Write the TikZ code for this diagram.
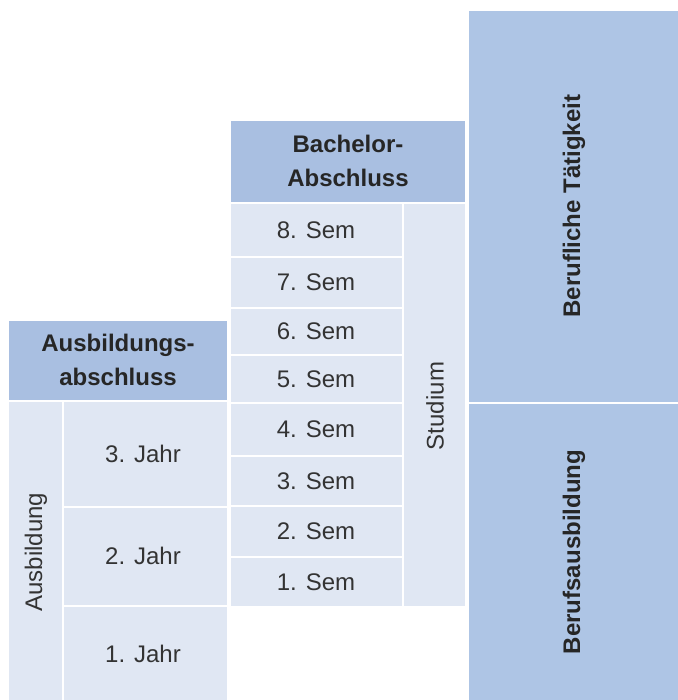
\documentclass[tikz,border=0pt]{standalone}
\usepackage{fontspec}
\setmainfont{Liberation Sans}

\definecolor{hdrblue}{RGB}{169,191,225}
\definecolor{sideblue}{RGB}{174,197,229}
\definecolor{cellblue}{RGB}{224,231,243}
\definecolor{txtgray}{RGB}{51,51,51}

\tikzset{every picture/.style={line width=0.75pt}}
\tikzset{
  hdr/.style={color=white, line width=1.5, fill=hdrblue},
  side/.style={color=white, line width=1.5, fill=sideblue},
  cell/.style={color=white, line width=1.5, fill=cellblue},
  txt/.style={inner sep=0.75pt, text=txtgray, font=\fontsize{18}{26}\selectfont, align=center},
  btxt/.style={txt, text=black!85, font=\fontsize{18}{26}\selectfont\bfseries}
}

\begin{document}
\begin{tikzpicture}[x=0.75pt,y=0.75pt,yscale=-1,xscale=1]
\useasboundingbox (0,0) rectangle (678,700);

%Shape: Rectangle [Ausbildungsabschluss]
\draw [hdr] (8,320) -- (228,320) -- (228,401) -- (8,401) -- cycle ;
%Shape: Rectangle [Ausbildung]
\draw [cell] (8,401) -- (63,401) -- (63,702) -- (8,702) -- cycle ;
%Shape: Rectangle [3. Jahr]
\draw [cell] (63,401) -- (228,401) -- (228,507) -- (63,507) -- cycle ;
%Shape: Rectangle [2. Jahr]
\draw [cell] (63,507) -- (228,507) -- (228,606) -- (63,606) -- cycle ;
%Shape: Rectangle [1. Jahr]
\draw [cell] (63,606) -- (228,606) -- (228,702) -- (63,702) -- cycle ;

%Shape: Rectangle [Bachelor-Abschluss]
\draw [hdr] (230,120) -- (466,120) -- (466,203) -- (230,203) -- cycle ;
%Shape: Rectangle [8. Sem]
\draw [cell] (230,203) -- (403,203) -- (403,257) -- (230,257) -- cycle ;
%Shape: Rectangle [7. Sem]
\draw [cell] (230,257) -- (403,257) -- (403,308) -- (230,308) -- cycle ;
%Shape: Rectangle [6. Sem]
\draw [cell] (230,308) -- (403,308) -- (403,355) -- (230,355) -- cycle ;
%Shape: Rectangle [5. Sem]
\draw [cell] (230,355) -- (403,355) -- (403,403) -- (230,403) -- cycle ;
%Shape: Rectangle [4. Sem]
\draw [cell] (230,403) -- (403,403) -- (403,456) -- (230,456) -- cycle ;
%Shape: Rectangle [3. Sem]
\draw [cell] (230,456) -- (403,456) -- (403,506) -- (230,506) -- cycle ;
%Shape: Rectangle [2. Sem]
\draw [cell] (230,506) -- (403,506) -- (403,557) -- (230,557) -- cycle ;
%Shape: Rectangle [1. Sem]
\draw [cell] (230,557) -- (403,557) -- (403,607) -- (230,607) -- cycle ;
%Shape: Rectangle [Studium]
\draw [cell] (403,203) -- (466,203) -- (466,607) -- (403,607) -- cycle ;

%Shape: Rectangle [Berufliche Taetigkeit]
\draw [side] (468,10) -- (680,10) -- (680,403) -- (468,403) -- cycle ;
%Shape: Rectangle [Berufsausbildung]
\draw [side] (468,403) -- (680,403) -- (680,702) -- (468,702) -- cycle ;

% Text Node
\draw (118,360) node (abschluss) [btxt] {Ausbildungs-\\abschluss};
% Text Node
\draw (36,552) node (ausbildung) [txt, rotate=90] {Ausbildung};
% Text Node
\draw (143,454) node (jahr3) [txt] {3. Jahr};
% Text Node
\draw (143,556) node (jahr2) [txt] {2. Jahr};
% Text Node
\draw (143,654) node (jahr1) [txt] {1. Jahr};

% Text Node
\draw (348,161) node (bachelor) [btxt] {Bachelor-\\Abschluss};
% Text Node
\draw (316,230) node (sem8) [txt] {8. Sem};
% Text Node
\draw (316,282) node (sem7) [txt] {7. Sem};
% Text Node
\draw (316,331) node (sem6) [txt] {6. Sem};
% Text Node
\draw (316,379) node (sem5) [txt] {5. Sem};
% Text Node
\draw (316,429) node (sem4) [txt] {4. Sem};
% Text Node
\draw (316,481) node (sem3) [txt] {3. Sem};
% Text Node
\draw (316,531) node (sem2) [txt] {2. Sem};
% Text Node
\draw (316,582) node (sem1) [txt] {1. Sem};
% Text Node
\draw (435,406) node (studium) [txt, rotate=90] {Studium};

% Text Node
\draw (574,206) node (taetigkeit) [btxt, rotate=90] {Berufliche Tätigkeit};
% Text Node
\draw (574,552) node (berufsausb) [btxt, rotate=90] {Berufsausbildung};

\end{tikzpicture}
\end{document}
